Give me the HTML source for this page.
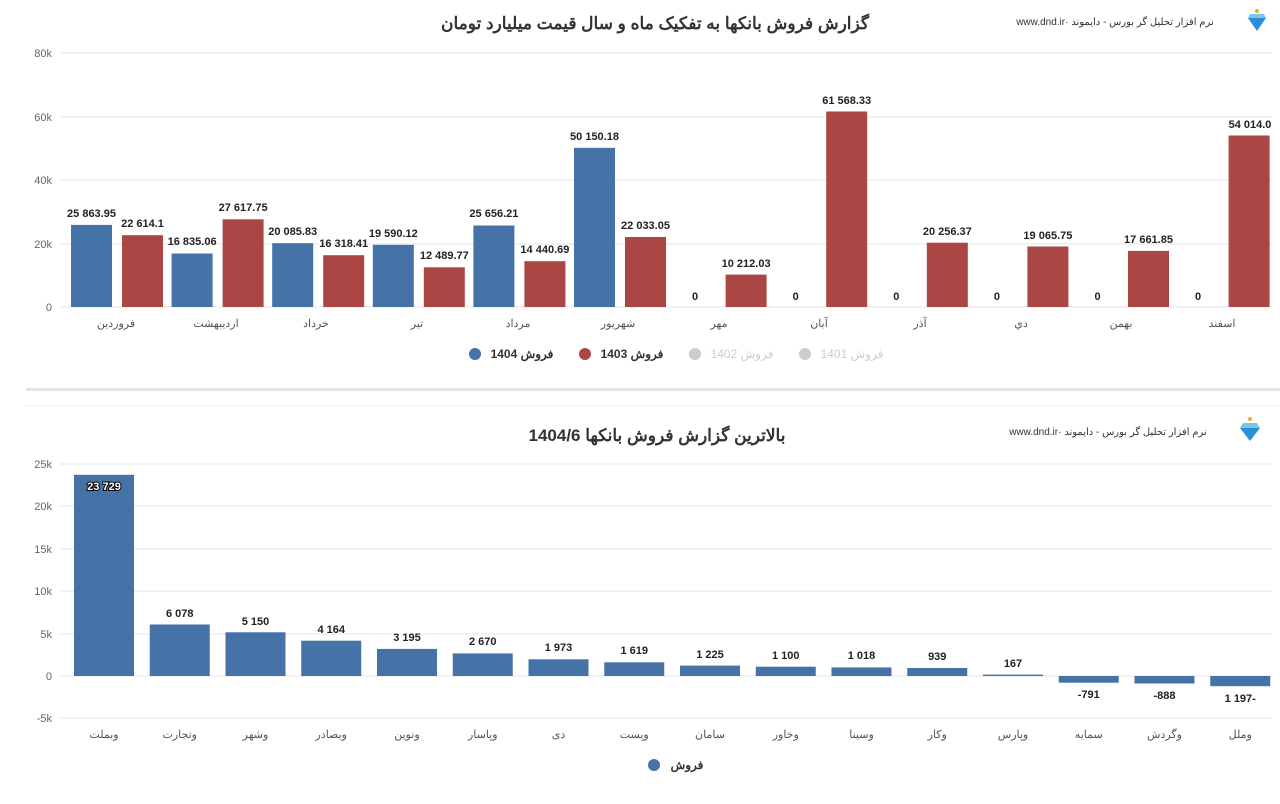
<!DOCTYPE html>
<html><head><meta charset="utf-8"><style>
body{margin:0;background:#fff;}
svg{display:block;font-family:"Liberation Sans","Noto Sans CJK SC",sans-serif;}
.ax{font-size:11px;fill:#666;}
.xl{font-size:11px;fill:#555;}
.v{font-size:11px;font-weight:bold;fill:#222;}
.g{stroke:#e6e6e6;stroke-width:1;}
</style></head><body>
<svg width="1280" height="804" viewBox="0 0 1280 804">
<rect width="1280" height="804" fill="#fff"/>
<text x="655" y="29" text-anchor="middle" direction="rtl" font-size="17" font-weight="bold" fill="#333">گزارش فروش بانکها به تفکیک ماه و سال قیمت میلیارد تومان</text>
<text x="1115" y="25" text-anchor="middle" direction="rtl" font-size="10" fill="#333">نرم افزار تحلیل گر بورس - دایموند ·www.dnd.ir</text>
<polygon points="1248,18 1266,18 1257,31" fill="#2a8fd8"/><polygon points="1250,14 1264,14 1266,18 1248,18" fill="#7cc4f0"/><circle cx="1257" cy="11" r="2" fill="#e8b020"/>
<line class="g" x1="60" y1="53" x2="1272" y2="53"/>
<line class="g" x1="60" y1="117" x2="1272" y2="117"/>
<line class="g" x1="60" y1="180" x2="1272" y2="180"/>
<line class="g" x1="60" y1="244" x2="1272" y2="244"/>
<line class="g" x1="60" y1="307" x2="1272" y2="307"/>
<text class="ax" x="52" y="57" text-anchor="end">80k</text>
<text class="ax" x="52" y="121" text-anchor="end">60k</text>
<text class="ax" x="52" y="184" text-anchor="end">40k</text>
<text class="ax" x="52" y="248" text-anchor="end">20k</text>
<text class="ax" x="52" y="311" text-anchor="end">0</text>
<g fill="#4572a7">
<rect x="71" y="224.9" width="41" height="82.1"/>
<rect x="171.6" y="253.5" width="41" height="53.5"/>
<rect x="272.2" y="243.2" width="41" height="63.8"/>
<rect x="372.8" y="244.8" width="41" height="62.2"/>
<rect x="473.4" y="225.5" width="41" height="81.5"/>
<rect x="574" y="147.8" width="41" height="159.2"/>
</g>
<g fill="#aa4643">
<rect x="122" y="235.2" width="41" height="71.8"/>
<rect x="222.6" y="219.3" width="41" height="87.7"/>
<rect x="323.2" y="255.2" width="41" height="51.8"/>
<rect x="423.8" y="267.3" width="41" height="39.7"/>
<rect x="524.4" y="261.2" width="41" height="45.8"/>
<rect x="625" y="237" width="41" height="70"/>
<rect x="725.6" y="274.6" width="41" height="32.4"/>
<rect x="826.2" y="111.5" width="41" height="195.5"/>
<rect x="926.8" y="242.7" width="41" height="64.3"/>
<rect x="1027.4" y="246.5" width="41" height="60.5"/>
<rect x="1128" y="250.9" width="41" height="56.1"/>
<rect x="1228.6" y="135.5" width="41" height="171.5"/>
</g>
<g class="v" text-anchor="middle">
<text x="91.5" y="217">25 863.95</text><text x="142.5" y="227">22 614.1</text>
<text x="192.1" y="245">16 835.06</text><text x="243.1" y="211">27 617.75</text>
<text x="292.7" y="235">20 085.83</text><text x="343.7" y="247">16 318.41</text>
<text x="393.3" y="237">19 590.12</text><text x="444.3" y="259">12 489.77</text>
<text x="493.9" y="217">25 656.21</text><text x="544.9" y="253">14 440.69</text>
<text x="594.5" y="140">50 150.18</text><text x="645.5" y="229">22 033.05</text>
<text x="695.1" y="300">0</text><text x="746.1" y="267">10 212.03</text>
<text x="795.7" y="300">0</text><text x="846.7" y="104">61 568.33</text>
<text x="896.3" y="300">0</text><text x="947.3" y="235">20 256.37</text>
<text x="996.9" y="300">0</text><text x="1047.9" y="239">19 065.75</text>
<text x="1097.5" y="300">0</text><text x="1148.5" y="243">17 661.85</text>
<text x="1198.1" y="300">0</text><text x="1250" y="128">54 014.0</text>
</g>
<g class="xl" text-anchor="middle">
<text x="116" y="327">فروردين</text><text x="216" y="327">ارديبهشت</text><text x="316" y="327">خرداد</text>
<text x="417" y="327">تير</text><text x="518" y="327">مرداد</text><text x="618" y="327">شهريور</text>
<text x="719" y="327">مهر</text><text x="819" y="327">آبان</text><text x="920" y="327">آذر</text>
<text x="1021" y="327">دي</text><text x="1121" y="327">بهمن</text><text x="1222" y="327">اسفند</text>
</g>
<g font-size="12" font-weight="bold" direction="rtl" text-anchor="middle">
<circle cx="475" cy="354" r="6" fill="#4572a7"/><text x="522" y="358" fill="#333">فروش 1404</text>
<circle cx="585" cy="354" r="6" fill="#aa4643"/><text x="632" y="358" fill="#333">فروش 1403</text>
<circle cx="695" cy="354" r="6" fill="#ccc"/><text x="742" y="358" fill="#ccc" font-weight="normal">فروش 1402</text>
<circle cx="805" cy="354" r="6" fill="#ccc"/><text x="852" y="358" fill="#ccc" font-weight="normal">فروش 1401</text>
</g>
<rect x="26" y="388" width="1254" height="3" fill="#e4e4e4"/>
<line x1="26" y1="406" x2="1280" y2="406" stroke="#eee"/>
<text x="657" y="441" text-anchor="middle" direction="rtl" font-size="17" font-weight="bold" fill="#333">بالاترین گزارش فروش بانکها 1404/6</text>
<text x="1108" y="435" text-anchor="middle" direction="rtl" font-size="10" fill="#333">نرم افزار تحلیل گر بورس - دایموند ·www.dnd.ir</text>
<polygon points="1240,428 1260,428 1250,441" fill="#2a8fd8"/><polygon points="1243,423 1257,423 1260,428 1240,428" fill="#7cc4f0"/><circle cx="1250" cy="419" r="2" fill="#e8b020"/>
<line class="g" x1="60" y1="464" x2="1272" y2="464"/>
<line class="g" x1="60" y1="506" x2="1272" y2="506"/>
<line class="g" x1="60" y1="549" x2="1272" y2="549"/>
<line class="g" x1="60" y1="591" x2="1272" y2="591"/>
<line class="g" x1="60" y1="634" x2="1272" y2="634"/>
<line class="g" x1="60" y1="676" x2="1272" y2="676"/>
<line class="g" x1="60" y1="718" x2="1272" y2="718"/>
<text class="ax" x="52" y="468" text-anchor="end">25k</text>
<text class="ax" x="52" y="510" text-anchor="end">20k</text>
<text class="ax" x="52" y="553" text-anchor="end">15k</text>
<text class="ax" x="52" y="595" text-anchor="end">10k</text>
<text class="ax" x="52" y="638" text-anchor="end">5k</text>
<text class="ax" x="52" y="680" text-anchor="end">0</text>
<text class="ax" x="52" y="722" text-anchor="end">-5k</text>
<g fill="#4572a7">
<rect x="74" y="474.8" width="60" height="201.2"/>
<rect x="149.75" y="624.5" width="60" height="51.5"/>
<rect x="225.5" y="632.3" width="60" height="43.7"/>
<rect x="301.25" y="640.7" width="60" height="35.3"/>
<rect x="377" y="648.9" width="60" height="27.1"/>
<rect x="452.75" y="653.4" width="60" height="22.6"/>
<rect x="528.5" y="659.3" width="60" height="16.7"/>
<rect x="604.25" y="662.3" width="60" height="13.7"/>
<rect x="680" y="665.6" width="60" height="10.4"/>
<rect x="755.75" y="666.7" width="60" height="9.3"/>
<rect x="831.5" y="667.4" width="60" height="8.6"/>
<rect x="907.25" y="668" width="60" height="8"/>
<rect x="983" y="674.6" width="60" height="1.4"/>
<rect x="1058.75" y="676" width="60" height="6.7"/>
<rect x="1134.5" y="676" width="60" height="7.5"/>
<rect x="1210.25" y="676" width="60" height="10.2"/>
</g>
<text x="104" y="490" text-anchor="middle" font-size="11" font-weight="bold" fill="#fff" stroke="#000" stroke-width="2" paint-order="stroke">23 729</text>
<g class="v" text-anchor="middle">
<text x="179.75" y="617">6 078</text><text x="255.5" y="625">5 150</text>
<text x="331.25" y="633">4 164</text><text x="407" y="641">3 195</text>
<text x="482.75" y="645">2 670</text><text x="558.5" y="651">1 973</text>
<text x="634.25" y="654">1 619</text><text x="710" y="658">1 225</text>
<text x="785.75" y="659">1 100</text><text x="861.5" y="659">1 018</text>
<text x="937.25" y="660">939</text><text x="1013" y="667">167</text>
<text x="1088.75" y="698">-791</text><text x="1164.5" y="699">-888</text>
<text x="1240.25" y="702">1 197-</text>
</g>
<g class="xl" text-anchor="middle">
<text x="104" y="738">وبملت</text><text x="179.75" y="738">وتجارت</text><text x="255.5" y="738">وشهر</text>
<text x="331.25" y="738">وبصادر</text><text x="407" y="738">ونوین</text><text x="482.75" y="738">وپاسار</text>
<text x="558.5" y="738">دی</text><text x="634.25" y="738">وپست</text><text x="710" y="738">سامان</text>
<text x="785.75" y="738">وخاور</text><text x="861.5" y="738">وسینا</text><text x="937.25" y="738">وکار</text>
<text x="1013" y="738">وپارس</text><text x="1088.75" y="738">سمایه</text><text x="1164.5" y="738">وگردش</text>
<text x="1240.25" y="738">وملل</text>
</g>
<circle cx="654" cy="765" r="6" fill="#4572a7"/>
<text x="687" y="769" text-anchor="middle" direction="rtl" font-size="12" font-weight="bold" fill="#333">فروش</text>
</svg>
</body></html>
